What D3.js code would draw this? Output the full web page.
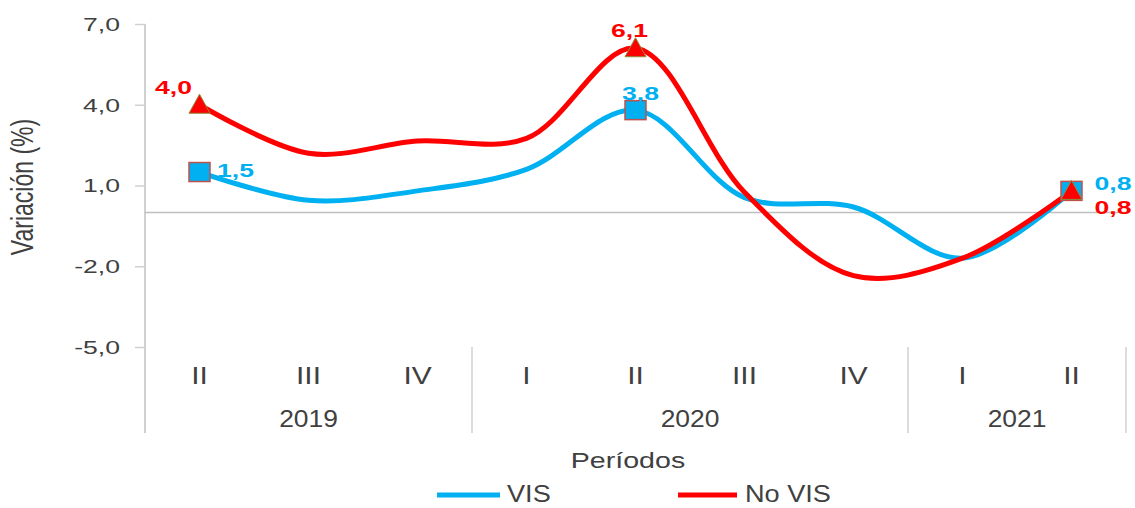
<!DOCTYPE html>
<html><head><meta charset="utf-8">
<script src="https://cdn.jsdelivr.net/npm/d3@7/dist/d3.min.js"></script>
<style>body{margin:0;background:#fff;} text{font-family:"Liberation Sans",Arial,sans-serif;}</style>
</head><body><svg id="c" width="1135" height="508"></svg>
<script>
const categories = ["2019-II","2019-III","2019-IV","2020-I","2020-II","2020-III","2020-IV","2021-I","2021-II"];
const quarterLabels = ["II","III","IV","I","II","III","IV","I","II"];
const years = [{label:"2019", from:0, to:2},{label:"2020", from:3, to:6},{label:"2021", from:7, to:8}];
const visValues = [1.5, 0.45, 0.8, 1.6, 3.8, 0.55, 0.2, -1.7, 0.8];
const noVisValues = [4.0, 2.2, 2.65, 2.75, 6.1, 0.75, -2.35, -1.7, 0.8];
const yTicks = [-5, -2, 1, 4, 7];
const markedIdx = [0, 4, 8];
const seriesNames = ["VIS", "No VIS"];

const svg = d3.select("#c");
const L = 145, R = 1126, T = 24, B = 347;
const x = d3.scaleBand().domain(categories).range([L, R]);
const y = d3.scaleLinear().domain([-5, 7]).range([B, T]);
const fmt = v => v.toFixed(1).replace(".", ",");
const gray = "#d0d0d0", txt = "#404040";
const blue = "#00B0F0", red = "#FF0000";

function addText(px, py, str, o) {
  o = Object.assign({size: 19, sx: 1, anchor: "start", weight: "normal", fill: txt, rot: 0}, o);
  return svg.append("text")
    .attr("transform", `translate(${px},${py}) scale(${o.sx},1)` + (o.rot ? ` rotate(${o.rot})` : ""))
    .attr("text-anchor", o.anchor).attr("font-size", o.size).attr("font-weight", o.weight)
    .attr("fill", o.fill).text(str);
}

// y axis
const yAxis = d3.axisLeft(y).tickValues(yTicks).tickSize(10).tickFormat(fmt);
const ga = svg.append("g").attr("transform", `translate(${L},0)`).call(yAxis);
ga.select(".domain").remove();
ga.selectAll(".tick line").attr("stroke", gray).attr("stroke-width", 1.5);
ga.selectAll(".tick text").attr("fill", txt).attr("font-size", 19).attr("x", 0).attr("dy", "0.34em")
  .attr("transform", "translate(-25,0) scale(1.4,1)")
  .style("font-family", "Liberation Sans, Arial, sans-serif");
svg.append("line").attr("x1", L).attr("x2", L).attr("y1", T).attr("y2", 433)
  .attr("stroke", gray).attr("stroke-width", 2);

// zero line
svg.append("line").attr("x1", L).attr("x2", R).attr("y1", y(0)).attr("y2", y(0))
  .attr("stroke", "#bfbfbf").attr("stroke-width", 1.5);

// category axis (two levels)
years.slice(1).forEach(g => {
  const xx = x(categories[g.from]);
  svg.append("line").attr("x1", xx).attr("x2", xx).attr("y1", B).attr("y2", 433)
    .attr("stroke", gray).attr("stroke-width", 1.5);
});
svg.append("line").attr("x1", R).attr("x2", R).attr("y1", B).attr("y2", 433)
  .attr("stroke", gray).attr("stroke-width", 1.5);
const cx = i => x(categories[i]) + x.bandwidth()/2;
categories.forEach((c, i) => addText(cx(i), 383.5, quarterLabels[i], {size: 23, sx: 1.3, anchor: "middle"}));
years.forEach(d => addText((x(categories[d.from]) + x(categories[d.to]) + x.bandwidth())/2, 427, d.label,
  {size: 24, sx: 1.1, anchor: "middle"}));

// titles
addText(33, 187, "Variación (%)", {size: 23, sx: 1.35, anchor: "middle", rot: -90});
addText(628, 468, "Períodos", {size: 22, sx: 1.3, anchor: "middle"});

// lines
const line = d3.line().x((d,i) => cx(i)).y(d => y(d)).curve(d3.curveCatmullRom.alpha(0.5));
svg.append("path").datum(visValues).attr("d", line).attr("fill", "none")
  .attr("stroke", blue).attr("stroke-width", 5);
svg.append("path").datum(noVisValues).attr("d", line).attr("fill", "none")
  .attr("stroke", red).attr("stroke-width", 5);

// markers
const mw = 21, mh = 19;
svg.selectAll(".ms").data(markedIdx).enter().append("rect")
  .attr("x", i => cx(i) - mw/2).attr("y", i => y(visValues[i]) - mh/2)
  .attr("width", mw).attr("height", mh).attr("fill", blue).attr("stroke", "#C0504D").attr("stroke-width", 1.5);
const triPath = `M0,${-mh/2 - 1}L${mw/2},${mh/2 - 1}L${-mw/2},${mh/2 - 1}Z`;
svg.selectAll(".mt").data(markedIdx).enter().append("path")
  .attr("d", triPath).attr("transform", i => `translate(${cx(i)},${y(noVisValues[i])})`)
  .attr("fill", red).attr("stroke", "#8F8B3A").attr("stroke-width", 1);

// data labels
const lb = {size: 19, sx: 1.4, weight: "bold"};
addText(cx(0) - 7.5, y(noVisValues[0]) - 11, fmt(noVisValues[0]), Object.assign({}, lb, {fill: red, anchor: "end"}));
addText(cx(0) + 17.5, y(visValues[0]) + 5, fmt(visValues[0]), Object.assign({}, lb, {fill: blue}));
addText(cx(4) - 6, y(noVisValues[4]) - 11, fmt(noVisValues[4]), Object.assign({}, lb, {fill: red, anchor: "middle"}));
addText(cx(4) + 5, y(visValues[4]) - 10, fmt(visValues[4]), Object.assign({}, lb, {fill: blue, anchor: "middle"}));
addText(cx(8) + 23, y(visValues[8]) - 0.5, fmt(visValues[8]), Object.assign({}, lb, {fill: blue}));
addText(cx(8) + 23, y(noVisValues[8]) + 23, fmt(noVisValues[8]), Object.assign({}, lb, {fill: red}));

// legend
const leg = [{n: seriesNames[0], c: blue, x1: 437, x2: 500, tx: 507}, {n: seriesNames[1], c: red, x1: 678, x2: 737, tx: 745}];
leg.forEach(d => {
  svg.append("line").attr("x1", d.x1).attr("x2", d.x2).attr("y1", 495).attr("y2", 495)
    .attr("stroke", d.c).attr("stroke-width", 5);
  addText(d.tx, 502, d.n, {size: 23, sx: 1.18});
});
</script></body></html>
